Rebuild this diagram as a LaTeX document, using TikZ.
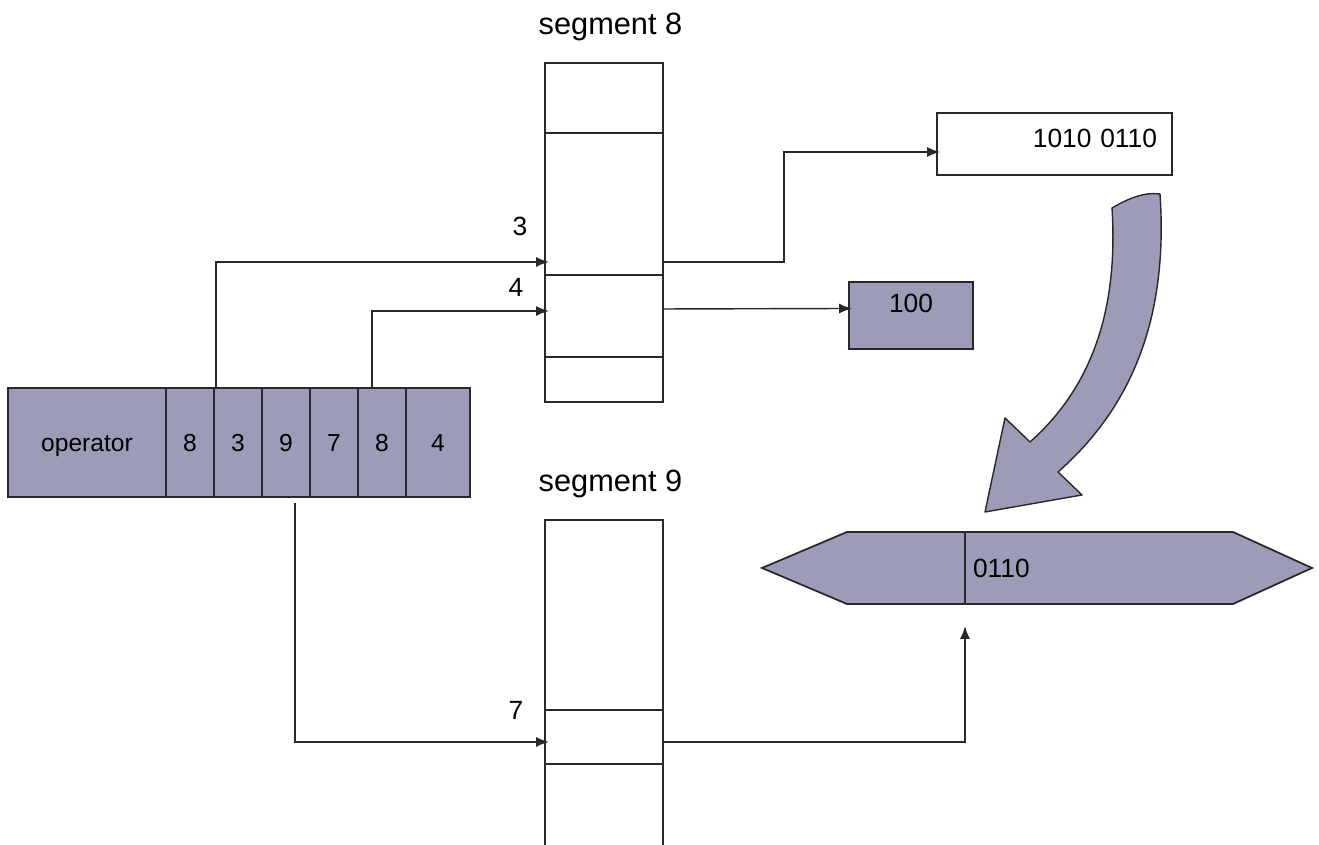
\documentclass[tikz,border=0pt]{standalone}
\usepackage{fontspec}
\setmainfont{Liberation Sans}
\usetikzlibrary{positioning,arrows.meta,backgrounds}
\definecolor{SlateFill}{RGB}{156,156,184}
\definecolor{InkGrey}{RGB}{40,40,40}
\tikzset{
  flow/.style={-{Latex[length=2.6mm,width=2.0mm]},line width=0.8pt,draw=InkGrey},
  opcell/.style={draw=InkGrey,fill=SlateFill,line width=1pt,inner sep=0pt,outer sep=0pt,
    minimum height=2.18cm,text height=10pt,text depth=0pt,font=\fontsize{14}{16}\selectfont},
  segcell/.style={draw=InkGrey,fill=white,line width=1pt,inner sep=0pt,outer sep=0pt,
    minimum width=2.36cm},
  seglabel/.style={anchor=base,inner sep=0pt,font=\fontsize{17.5}{20}\selectfont},
  slotlabel/.style={anchor=base,inner sep=0pt,font=\fontsize{15}{18}\selectfont},
  binbox/.style={draw=InkGrey,fill=white,line width=1pt,outer sep=0pt,
    font=\fontsize{15}{18}\selectfont},
  resbox/.style={draw=InkGrey,fill=SlateFill,line width=1pt,outer sep=0pt,
    font=\fontsize{15}{18}\selectfont},
  wordcell/.style={inner sep=0pt,outer sep=0pt,minimum height=1.44cm,
    font=\fontsize{15}{18}\selectfont},
  wordshape/.style={draw=InkGrey,fill=SlateFill,line width=1pt},
  bigturn/.style={draw=InkGrey,fill=SlateFill,line width=0.8pt,line join=round}
}

\begin{document}
\begin{tikzpicture}
  \useasboundingbox (0,0) rectangle (26.38,16.9);
  \node[opcell,minimum width=3.16cm,anchor=west] (op) at (0.16,8.05) {operator};
  \node[opcell,minimum width=0.96cm,right=0pt of op] (f8a) {8};
  \node[opcell,minimum width=0.96cm,right=0pt of f8a] (f3) {3};
  \node[opcell,minimum width=0.96cm,right=0pt of f3] (f9) {9};
  \node[opcell,minimum width=0.96cm,right=0pt of f9] (f7) {7};
  \node[opcell,minimum width=0.96cm,right=0pt of f7] (f8b) {8};
  \node[opcell,minimum width=1.28cm,right=0pt of f8b] (f4) {4};

  \node[segcell,minimum height=1.40cm,anchor=north] (s8a) at (12.08,15.64) {};
  \node[segcell,minimum height=2.84cm,below=0pt of s8a] (s8b) {};
  \node[segcell,minimum height=1.64cm,below=0pt of s8b] (s8c) {};
  \node[segcell,minimum height=0.90cm,below=0pt of s8c] (s8d) {};
  \node[seglabel] (lab8) at (12.21,16.20) {segment 8};

  \node[segcell,minimum height=3.80cm,anchor=north] (s9a) at (12.08,6.50) {};
  \node[segcell,minimum height=1.08cm,below=0pt of s9a] (s9b) {};
  \node[segcell,draw=none,fill=none,minimum height=1.62cm,below=0pt of s9b] (s9c) {};
  \draw[line width=1pt,InkGrey] (s9c.north west) -- (s9c.south west) (s9c.north east) -- (s9c.south east);
  \node[seglabel] (lab9) at (12.21,7.06) {segment 9};

  \node[slotlabel] (n3) at (10.40,12.18) {3};
  \node[slotlabel] (n4) at (10.32,10.96) {4};
  \node[slotlabel] (n7) at (10.32,2.50) {7};

  \node[binbox,minimum height=1.24cm,text width=4.10cm,align=right,inner xsep=0.30cm,
    text height=0.4cm,text depth=0.26cm] (bin) at (21.09,14.02) {1010 0110};
  \node[resbox,minimum width=2.48cm,minimum height=1.34cm,
    text height=0.4cm,text depth=0.52cm] (res) at (18.22,10.59) {100};

  \node[wordcell,minimum width=2.36cm] (lo) at (18.12,5.54) {};
  \node[wordcell,text width=5.04cm,align=left,inner xsep=0.16cm,right=0pt of lo] (hi) {0110};
  \begin{scope}[on background layer]
    \filldraw[wordshape] (lo.north west) -- (hi.north east) -- ([xshift=1.58cm]hi.east)
      -- (hi.south east) -- (lo.south west) -- ([xshift=-1.70cm]lo.west) -- cycle;
  \end{scope}
  \draw[line width=1pt,InkGrey] (hi.north west) -- (hi.south west);

  \filldraw[bigturn] (20.60,8.06) .. controls (22.0,9.3) and (22.35,11.0) .. (22.24,12.74)
    .. controls (22.6,12.95) and (22.9,13.06) .. (23.20,13.02)
    .. controls (23.35,10.8) and (22.8,8.9) .. (21.16,7.46)
    -- (21.64,7.00) -- (19.70,6.66) -- (20.10,8.54) -- cycle;

  \draw[flow] ([xshift=0.04cm]f3.north west) |- ([xshift=0.08cm,yshift=0.26cm]s8b.south west);
  \draw[flow] ([xshift=0.28cm]f8b.north west) |- ([xshift=0.08cm,yshift=0.10cm]s8c.west);
  \draw[flow] ([xshift=0.66cm,yshift=-0.12cm]f9.south west) |- ([xshift=0.08cm,yshift=-0.10cm]s9b.west);
  \draw[flow] ([yshift=0.26cm]s8b.south east) -- ++(2.42,0) |- ([xshift=0.06cm,yshift=-0.16cm]bin.west);
  \draw[flow] ([yshift=0.14cm]s8c.east) -- ([xshift=0.06cm,yshift=0.14cm]res.west);
  \draw[flow] ([yshift=-0.10cm]s9b.east) -| ([yshift=-0.44cm]hi.south west);
\end{tikzpicture}
\end{document}
